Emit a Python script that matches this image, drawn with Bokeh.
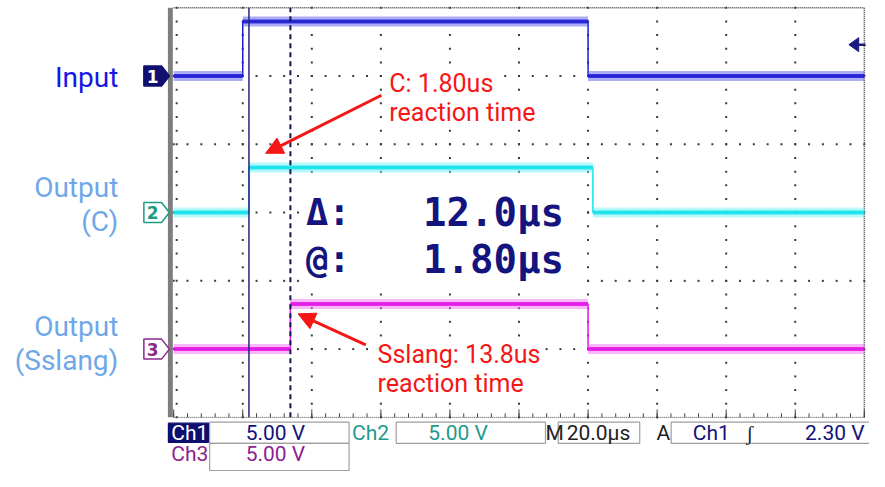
import numpy as np
from bokeh.plotting import figure
from bokeh.models import Label, Arrow, NormalHead, Range1d
from bokeh.embed import file_html
from bokeh.resources import INLINE

# ---------------- data ----------------
time_per_div_us = 20.0
volts_per_div = 5.0
ch1_time_us = [-20.0, 0.0, 0.0, 100.0, 100.0, 180.0]
ch1_volts = [0.0, 0.0, 4.0, 4.0, 0.0, 0.0]
ch2_time_us = [-20.0, 1.8, 1.8, 101.4, 101.4, 180.0]
ch2_volts = [0.0, 0.0, 3.3, 3.3, 0.0, 0.0]
ch3_time_us = [-20.0, 13.8, 13.8, 100.0, 100.0, 180.0]
ch3_volts = [0.0, 0.0, 3.3, 3.3, 0.0, 0.0]
channel_offsets_div = [5.0, 3.0, 1.0]
channel_numbers = ["1", "2", "3"]
cursor_times_us = [1.8, 13.8]
trigger_level_v = 2.30
trigger_channel = 0
readout_labels = ["Δ:", "@:"]
readout_values = ["12.0µs", "1.80µs"]
input_label = ["Input"]
output_c_label = ["Output", "(C)"]
output_s_label = ["Output", "(Sslang)"]
note_c = ["C: 1.80us", "reaction time"]
note_s = ["Sslang: 13.8us", "reaction time"]
status_row1 = ["Ch1", "5.00 V", "Ch2", "5.00 V", "M", "20.0µs", "A", "Ch1", "ʃ", "2.30 V"]
status_row2 = ["Ch3", "5.00 V"]

# ---------------- figure ----------------
W, H = 869, 471          # figure size in px
RW, RH = 885.0, 487.0    # layout reference extent
XS, XE = -70.15, 181.5   # time (us) across the whole canvas
YS, YE = -0.793, 6.107   # divisions across the whole canvas

p = figure(width=W, height=H, x_range=Range1d(XS, XE), y_range=Range1d(YS, YE),
           output_backend="svg", toolbar_location=None,
           x_axis_location=None, y_axis_location=None, min_border=0,
           outline_line_color=None, background_fill_color="white",
           border_fill_color="white")
p.xgrid.visible = False
p.ygrid.visible = False


def X(rx):
    return XS + rx * (XE - XS) / RW


def Y(ry):
    return YE - ry * (YE - YS) / RH


DX = (XE - XS) / W   # data per screen px
DY = (YE - YS) / H

# ---------------- graticule ----------------
t_left = -time_per_div_us
t_right = t_left + 10 * time_per_div_us
major_t = np.arange(t_left, t_right + 0.1, time_per_div_us)
major_d = np.arange(0, 7)
minor_d = np.arange(0, 6.001, 0.2)
minor_t = np.arange(t_left, t_right + 0.1, time_per_div_us / 5)

gx, gy = [], []
for t in major_t[1:-1]:
    gx += [t] * len(minor_d)
    gy += list(minor_d)
for d in major_d[1:-1]:
    gx += list(minor_t)
    gy += [d] * len(minor_t)
gx += [t_left + 3 * DX] * len(minor_d)
gy += list(minor_d)
p.scatter(gx, gy, marker="square", size=2, color="#3a3a3a", line_color=None)

# borders
p.quad(left=[X(170.5)], right=[X(175.5)], top=[6.0], bottom=[0.0], color="#7e7e7e", line_color=None)
p.line([t_left, t_right], [0, 0], line_color="#444444", line_width=1, line_dash="1 1")
p.line([t_right, t_right], [0, 6], line_color="#444444", line_width=1.5, line_dash="1 1")
p.line([t_left, t_right], [6, 6], line_color="#444444", line_width=1.5, line_dash="1 1")
p.segment(x0=list(minor_t), y0=[0] * len(minor_t), x1=list(minor_t), y1=[4 * DY] * len(minor_t),
          line_color="#444444", line_width=1)
p.segment(x0=list(major_t), y0=[0] * len(major_t), x1=list(major_t), y1=[8 * DY] * len(major_t),
          line_color="#444444", line_width=1)

# white panel behind cursor readout (hides graticule like the scope does)
p.quad(left=[X(306)], right=[X(594)], top=[Y(184)], bottom=[Y(294)],
       fill_color="white", line_color=None)

# ---------------- traces ----------------
traces = [
    (ch1_time_us, ch1_volts, "#1c1cd2", "#5a5aee"),
    (ch2_time_us, ch2_volts, "#12e2ea", "#6ff2f6"),
    (ch3_time_us, ch3_volts, "#e414e6", "#f070f2"),
]
for (t, v, core, band), off in zip(traces, channel_offsets_div):
    ys = off + np.array(v) / volts_per_div
    p.line(t, list(ys), line_color=core, line_width=1.5)
    x0, y0, x1, y1 = [], [], [], []
    for i in range(len(t) - 1):
        if ys[i] == ys[i + 1] and t[i] != t[i + 1]:
            x0.append(t[i]); x1.append(t[i + 1]); y0.append(ys[i]); y1.append(ys[i + 1])
    p.segment(x0=x0, y0=y0, x1=x1, y1=y1, line_color=band, line_width=10, line_alpha=0.5)
    p.segment(x0=x0, y0=y0, x1=x1, y1=y1, line_color=core, line_width=4, line_alpha=0.85)

# ---------------- cursors ----------------
p.segment(x0=[cursor_times_us[0]], y0=[0], x1=[cursor_times_us[0]], y1=[6],
          line_color="#24247c", line_width=1.5)
p.segment(x0=[cursor_times_us[1]], y0=[0], x1=[cursor_times_us[1]], y1=[6],
          line_color="#16164a", line_width=2, line_dash="5 4")

# ---------------- channel ground markers ----------------
marker_fill = ["#10106e", "white", "white"]
marker_line = ["#10106e", "#1f9a82", "#8a2a8c"]
marker_text = ["white", "#1f9a82", "#8a2a8c"]
for off, num, fc, lc, tc in zip(channel_offsets_div, channel_numbers, marker_fill, marker_line, marker_text):
    xs = [X(146), X(164), X(172), X(164), X(146)]
    ys = [off + 10 * DY, off + 10 * DY, off, off - 10 * DY, off - 10 * DY]
    p.patch(xs, ys, fill_color=fc, line_color=lc, line_width=1.5)
    p.add_layout(Label(x=X(155), y=off, text=num, text_font="DejaVu Sans", text_font_style="bold",
                       text_font_size="17px", text_color=tc, text_align="center",
                       text_baseline="middle"))

# trigger level marker (right edge)
trig_d = channel_offsets_div[trigger_channel] + trigger_level_v / volts_per_div
p.patch([X(864), X(874), X(874)], [trig_d, trig_d + 7 * DY, trig_d - 7 * DY],
        fill_color="#1a1a80", line_color="#1a1a80")
p.segment(x0=[X(871)], y0=[trig_d], x1=[X(881)], y1=[trig_d], line_color="#1a1a80", line_width=2.5)

# ---------------- cursor readout ----------------
for lab, val, ry in zip(readout_labels, readout_values, [219, 268]):
    p.add_layout(Label(x=X(311), y=Y(ry), text=lab, text_font="DejaVu Sans Mono",
                       text_font_style="bold", text_font_size="37px", text_color="#14147e",
                       text_align="left", text_baseline="middle"))
    p.add_layout(Label(x=X(502), y=Y(ry), text=val, text_font="DejaVu Sans Mono",
                       text_font_style="bold", text_font_size="39px", text_color="#14147e",
                       text_align="center", text_baseline="middle"))

# ---------------- left channel labels ----------------
def side_label(lines, centers, color):
    for s, ry in zip(lines, centers):
        p.add_layout(Label(x=X(120), y=Y(ry), text=s, text_font="Roboto", text_font_size="28px",
                           text_color=color, text_align="right", text_baseline="middle"))


side_label(input_label, [80], "#1616e6")
side_label(output_c_label, [193, 228], "#6fa7e8")
side_label(output_s_label, [337, 372], "#6fa7e8")

# ---------------- red notes and arrows ----------------
RED = "#f51616"
for s, ry in zip(note_c, [86, 116]):
    p.add_layout(Label(x=X(396), y=Y(ry), text=s, text_font="Roboto", text_font_size="25px",
                       text_color=RED, text_align="left", text_baseline="middle",
                       background_fill_color="white"))
for s, ry in zip(note_s, [366, 396]):
    p.add_layout(Label(x=X(384), y=Y(ry), text=s, text_font="Roboto", text_font_size="25px",
                       text_color=RED, text_align="left", text_baseline="middle",
                       background_fill_color="white"))
p.add_layout(Arrow(end=NormalHead(size=17, fill_color=RED, line_color=RED),
                   x_start=X(388), y_start=Y(98), x_end=X(270), y_end=Y(158),
                   line_color=RED, line_width=3))
p.add_layout(Arrow(end=NormalHead(size=17, fill_color=RED, line_color=RED),
                   x_start=X(372), y_start=Y(356), x_end=X(303), y_end=Y(324),
                   line_color=RED, line_width=3))

# ---------------- status bar ----------------
NAVY = "#12127a"
TEAL = "#1f9a8a"
PURP = "#8c1e90"
BLK = "#222222"
boxes = [
    (171, 212, 437, 457, "#0e0e6e", "#0e0e6e"),
    (213, 355, 436, 458, "white", "#a0a0a0"),
    (403, 555, 436, 458, "white", "#a0a0a0"),
    (568, 651, 436, 458, "white", "#a0a0a0"),
    (683, 890, 436, 458, "white", "#a0a0a0"),
    (213, 355, 458, 486, "white", "#a0a0a0"),
]
p.quad(left=[X(b[0]) for b in boxes], right=[X(b[1]) for b in boxes],
       top=[Y(b[2]) for b in boxes], bottom=[Y(b[3]) for b in boxes],
       fill_color=[b[4] for b in boxes], line_color=[b[5] for b in boxes], line_width=1.2)

row1_spec = [
    (174, "left", "white"),
    (280, "center", NAVY),
    (358, "left", TEAL),
    (466, "center", TEAL),
    (555, "left", BLK),
    (609, "center", BLK),
    (668, "left", BLK),
    (705, "left", NAVY),
    (763, "center", BLK),
    (880, "right", NAVY),
]
for s, (rx, al, col) in zip(status_row1, row1_spec):
    p.add_layout(Label(x=X(rx), y=Y(447), text=s, text_font="Roboto", text_font_size="21px",
                       text_color=col, text_align=al, text_baseline="middle"))
row2_spec = [(174, "left", PURP), (280, "center", PURP)]
for s, (rx, al, col) in zip(status_row2, row2_spec):
    p.add_layout(Label(x=X(rx), y=Y(469), text=s, text_font="Roboto", text_font_size="21px",
                       text_color=col, text_align=al, text_baseline="middle"))

open("out.html", "w").write(file_html(p, INLINE))
